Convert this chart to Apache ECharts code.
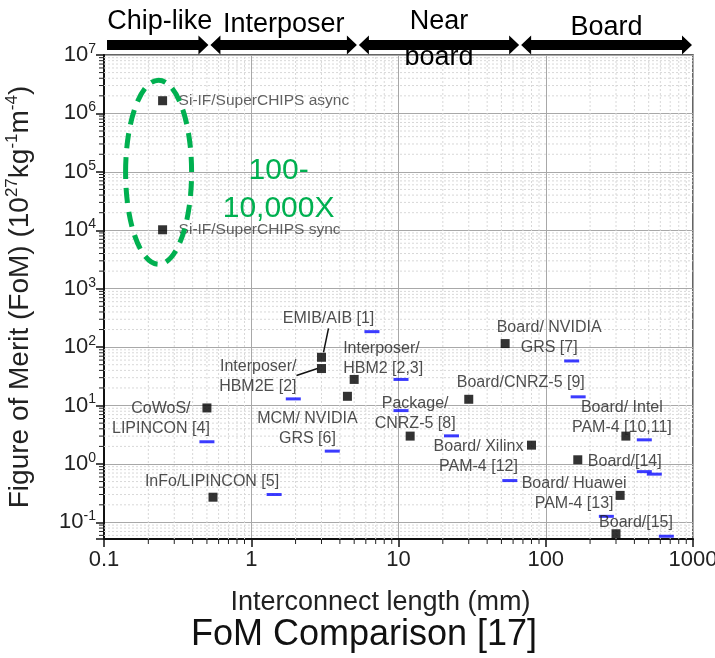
<!DOCTYPE html>
<html>
<head>
<meta charset="utf-8">
<script src="https://cdn.jsdelivr.net/npm/echarts@6/dist/echarts.min.js"></script>
<style>
  html, body { margin: 0; padding: 0; background: #fff; }
  #main { width: 715px; height: 658px; }
</style>
</head>
<body>
<div id="main"></div>
<script>
// interconnect length (mm) and FoM (1e27 kg^-1 m^-4) for each work
const lengths = [0.25, 0.25, 3, 3, 5, 4.5, 0.5, 0.55, 53, 30, 12, 80, 350, 165, 320, 300];
const foms = [1.65e6, 1.02e4, 67, 43, 28, 14.4, 9.1, 0.27, 115, 12.8, 3.0, 2.1, 3.0, 1.18, 0.29, 0.064];
const names = [
  "Si-IF/SuperCHIPS async", "Si-IF/SuperCHIPS sync", "EMIB/AIB [1]", "Interposer/\nHBM2E [2]",
  "Interposer/\nHBM2 [2,3]", "MCM/ NVIDIA\nGRS [6]", "CoWoS/\nLIPINCON [4]", "InFo/LIPINCON [5]",
  "Board/ NVIDIA\nGRS [7]", "Board/CNRZ-5 [9]", "Package/\nCNRZ-5 [8]", "Board/ Xilinx\nPAM-4 [12]",
  "Board/ Intel\nPAM-4 [10,11]", "Board/[14]", "Board/ Huawei\nPAM-4 [13]", "Board/[15]"
];
// small blue reference marks
const refX = [6.6, 1.93, 0.5, 3.55, 1.43, 10.4, 10.4, 22.9, 150, 166, 467, 57, 467, 546, 258, 659];
const refY = [184, 13, 2.4, 1.66, 0.3, 28, 8.2, 3.03, 58, 14.1, 2.59, 0.52, 0.74, 0.67, 0.127, 0.058];
// interconnect classes along the top
const regions = ["Chip-like", "Interposer", "Near\nboard", "Board"];
const regionBounds = [0.1, 0.52, 5.3, 67, 1000];
const xTicks = ["0.1", "1", "10", "100", "1000"];

// label placement: [dx, dy, align] from the point centre, in px
const labelPos = [
  [16, 0, "left"], [16, 0, "left"], [7, -39, "center"], [-25, 8, "right"],
  [-11, -21, "left"], [-40, 32, "center"], [-46, 11, "center"], [-1, -16, "center"],
  [44, -6, "center"], [52, -17, "center"], [5, -23, "center"], [-53, 11, "center"],
  [-4, -19, "center"], [47, 2, "center"], [-46, -2, "center"], [20, -11, "center"]
];

const SANS = "'Liberation Sans', Arial, sans-serif";
const yMin = 0.052, yMax = 1e7, xMin = 0.1, xMax = 1000;

const xMinor = [], yMinor = [];
for (let e = -1; e < 3; e++) for (let m = 2; m <= 9; m++) xMinor.push(+(m * Math.pow(10, e)).toPrecision(3));
for (let e = -2; e < 7; e++) for (let m = 2; m <= 9; m++) {
  const v = +(m * Math.pow(10, e)).toPrecision(3);
  if (v > yMin && v < yMax) yMinor.push(v);
}

const chart = echarts.init(document.getElementById("main"));

function minorXItem(params, api) {
  const v = api.value(0);
  const b = api.coord([v, yMin]), t = api.coord([v, yMax]);
  return { type: "group", children: [
    { type: "line", shape: { x1: b[0], y1: b[1], x2: t[0], y2: t[1] }, style: { stroke: "#d8d8d8", lineWidth: 1, lineDash: [2, 2] } },
    { type: "line", shape: { x1: b[0], y1: b[1], x2: b[0], y2: b[1] + 5 }, style: { stroke: "#222", lineWidth: 1 } }
  ] };
}
function minorYItem(params, api) {
  const v = api.value(1);
  const l = api.coord([xMin, v]), r = api.coord([xMax, v]);
  return { type: "group", children: [
    { type: "line", shape: { x1: l[0], y1: l[1], x2: r[0], y2: r[1] }, style: { stroke: "#d8d8d8", lineWidth: 1, lineDash: [2, 2] } },
    { type: "line", shape: { x1: l[0], y1: l[1], x2: l[0] - 5, y2: l[1] }, style: { stroke: "#222", lineWidth: 1 } }
  ] };
}

chart.setOption({
  backgroundColor: "#fff",
  animation: false,
  grid: {
    left: 104, right: 22, top: 55, bottom: 119, outerBoundsMode: "none", containLabel: false,
    show: true, borderColor: "#333", borderWidth: 1.5
  },
  xAxis: {
    type: "log", logBase: 10, min: xMin, max: xMax,
    name: "Interconnect length (mm)", nameLocation: "middle", nameGap: 50,
    nameTextStyle: { fontFamily: SANS, fontSize: 27, color: "#222", padding: [0, 36, 0, 0] },
    axisLine: { lineStyle: { color: "#111", width: 2 } },
    axisTick: { inside: false, length: 8, lineStyle: { color: "#111", width: 1.5 } },
    axisLabel: { fontFamily: SANS, fontSize: 22, color: "#222", margin: 10,
      formatter: (v) => { const i = Math.round(Math.log10(v)) + 1; return xTicks[i] || ""; } },
    splitLine: { show: true, lineStyle: { color: "#a8a8a8", width: 1 } }
  },
  yAxis: {
    type: "log", logBase: 10, min: yMin, max: yMax,
    name: "{t|Figure of Merit (FoM) (10}{s|27}{t|kg}{s|-1}{t|m}{s|-4}{t|)}",
    nameLocation: "middle", nameGap: 68, nameRotate: 90,
    nameTextStyle: { rich: {
      t: { fontFamily: SANS, fontSize: 28, color: "#222", lineHeight: 32 },
      s: { fontFamily: SANS, fontSize: 17, color: "#222", verticalAlign: "top", lineHeight: 32 }
    } },
    axisLine: { lineStyle: { color: "#111", width: 2 } },
    axisTick: { inside: false, length: 8, lineStyle: { color: "#111", width: 1.5 } },
    axisLabel: {
      margin: 8,
      formatter: (v) => {
        const e = Math.round(Math.log10(v));
        if (Math.abs(v / Math.pow(10, e) - 1) > 1e-6) return "";
        return "{b|10}{s|" + e + "}";
      },
      rich: {
        b: { fontFamily: SANS, fontSize: 22, color: "#222", lineHeight: 26 },
        s: { fontFamily: SANS, fontSize: 14, color: "#222", verticalAlign: "top", lineHeight: 26 }
      }
    },
    splitLine: { show: true, lineStyle: { color: "#a8a8a8", width: 1 } }
  },
  series: [
    { type: "custom", renderItem: minorXItem, data: xMinor.map((v) => [v, 1]), silent: true, z: 1 },
    { type: "custom", renderItem: minorYItem, data: yMinor.map((v) => [1, v]), silent: true, z: 1 },
    {
      type: "scatter", symbol: "rect", symbolSize: [15, 3], silent: true, z: 3,
      itemStyle: { color: "#0a0aff" },
      data: refX.map((x, i) => [x, refY[i]])
    },
    {
      type: "scatter", symbol: "rect", symbolSize: 9, z: 4,
      itemStyle: { color: "#000" },
      data: lengths.map((x, i) => ({
        value: [x, foms[i]],
        label: {
          show: true, formatter: names[i], position: "inside",
          offset: [labelPos[i][0], labelPos[i][1]], align: labelPos[i][2], verticalAlign: "middle",
          fontFamily: SANS, fontSize: i < 2 ? 15.5 : 16, color: i < 2 ? "#3a3a3a" : "#222", lineHeight: 20
        }
      }))
    }
  ]
});

// annotations placed through the chart's own coordinate conversion
const px = (x, y) => chart.convertToPixel({ gridIndex: 0 }, [x, y]);
const gfx = [];
const topY = px(xMin, yMax)[1];
const cy = topY - 10, h = 5, H = 9.5, L = 10;
regions.forEach((name, i) => {
  const x1 = px(regionBounds[i], yMax)[0] + (i ? 1 : 3);
  const x2 = px(regionBounds[i + 1], yMax)[0] - 1;
  const headL = i > 0;
  const pts = [];
  if (headL) pts.push([x1, cy], [x1 + L, cy - H], [x1 + L, cy - h]); else pts.push([x1, cy - h]);
  pts.push([x2 - L, cy - h], [x2 - L, cy - H], [x2, cy], [x2 - L, cy + H], [x2 - L, cy + h]);
  if (headL) pts.push([x1 + L, cy + h], [x1 + L, cy + H]); else pts.push([x1, cy + h]);
  gfx.push({ type: "polygon", shape: { points: pts }, style: { fill: "#000" }, z: 10 });
  const labelY = [22, 25, 40, 28][i];
  gfx.push({
    type: "text", x: (x1 + x2) / 2 + (i === 0 ? 2 : 0), y: labelY, z: 11,
    style: { text: name, fontFamily: SANS, fontSize: 27, fill: "#000", align: "center", verticalAlign: "middle", lineHeight: 36 }
  });
});

// leader lines
const p3 = px(lengths[2], foms[2]), p4 = px(lengths[3], foms[3]);
gfx.push({ type: "line", shape: { x1: p3[0] + 7, y1: p3[1] - 29, x2: p3[0] + 2, y2: p3[1] - 5 }, style: { stroke: "#111", lineWidth: 1.5 }, z: 10 });
gfx.push({ type: "line", shape: { x1: p4[0] - 25, y1: p4[1] + 7, x2: p4[0] - 4, y2: p4[1] }, style: { stroke: "#111", lineWidth: 1.5 }, z: 10 });

// green dashed ellipse around the Si-IF points
const pa = px(lengths[0], foms[0]), pb = px(lengths[1], foms[1]);
const ecx = pa[0] - 4, ecy = (pa[1] + pb[1]) / 2 + 7;
gfx.push({ type: "ellipse", shape: { cx: ecx, cy: ecy, rx: 33, ry: 92 }, style: { fill: "none", stroke: "#00b050", lineWidth: 5, lineDash: [15, 9] }, z: 10 });
gfx.push({
  type: "text", x: ecx + 120, y: ecy + 17, z: 11,
  style: { text: "100-\n10,000X", fontFamily: SANS, fontSize: 30, fill: "#00b050", align: "center", verticalAlign: "middle", lineHeight: 38 }
});

// caption
gfx.push({
  type: "text", x: 364, y: 635, z: 11,
  style: { text: "FoM Comparison [17]", fontFamily: SANS, fontSize: 36, fill: "#111", align: "center", verticalAlign: "middle" }
});

chart.setOption({ graphic: gfx });
</script>
</body>
</html>
